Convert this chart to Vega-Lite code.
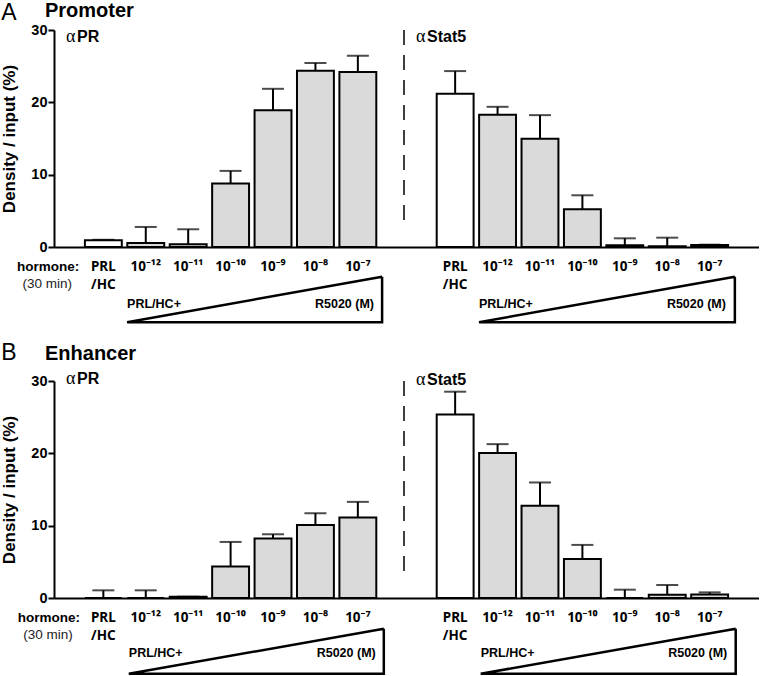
{
  "$schema": "https://vega.github.io/schema/vega-lite/v6.json",
  "padding": {"left": 0, "top": 0, "right": 0, "bottom": 0},
  "config": {
    "view": {"stroke": null},
    "font": "Liberation Sans",
    "axisY": {"grid": false, "domainColor": "black", "domainWidth": 2, "tickColor": "black", "tickWidth": 2, "tickSize": 6, "labelFontSize": 14.5, "labelFontWeight": "bold", "labelColor": "black", "labelPadding": 1, "titleFontSize": 17, "titleFontWeight": "bold", "titleColor": "black", "titlePadding": 12}
  },
  "spacing": 14,
  "datasets": {
    "bars": [
      {"panel": "A", "ab": "αPR", "cond": "PRL\n/HC", "treat": "PRL/HC", "value": 0.92, "hi": 1.0},
      {"panel": "A", "ab": "αPR", "cond": "10⁻¹²", "treat": "PRL/HC+R5020", "value": 0.55, "hi": 2.77},
      {"panel": "A", "ab": "αPR", "cond": "10⁻¹¹", "treat": "PRL/HC+R5020", "value": 0.37, "hi": 2.45},
      {"panel": "A", "ab": "αPR", "cond": "10⁻¹⁰", "treat": "PRL/HC+R5020", "value": 8.77, "hi": 10.52},
      {"panel": "A", "ab": "αPR", "cond": "10⁻⁹", "treat": "PRL/HC+R5020", "value": 18.92, "hi": 21.87},
      {"panel": "A", "ab": "αPR", "cond": "10⁻⁸", "treat": "PRL/HC+R5020", "value": 24.37, "hi": 25.43},
      {"panel": "A", "ab": "αPR", "cond": "10⁻⁷", "treat": "PRL/HC+R5020", "value": 24.18, "hi": 26.44},
      {"panel": "A", "ab": "αStat5", "cond": "PRL\n/HC", "treat": "PRL/HC", "value": 21.18, "hi": 24.32},
      {"panel": "A", "ab": "αStat5", "cond": "10⁻¹²", "treat": "PRL/HC+R5020", "value": 18.27, "hi": 19.38},
      {"panel": "A", "ab": "αStat5", "cond": "10⁻¹¹", "treat": "PRL/HC+R5020", "value": 14.95, "hi": 18.23},
      {"panel": "A", "ab": "αStat5", "cond": "10⁻¹⁰", "treat": "PRL/HC+R5020", "value": 5.21, "hi": 7.15},
      {"panel": "A", "ab": "αStat5", "cond": "10⁻⁹", "treat": "PRL/HC+R5020", "value": 0.23, "hi": 1.2},
      {"panel": "A", "ab": "αStat5", "cond": "10⁻⁸", "treat": "PRL/HC+R5020", "value": 0.1, "hi": 1.29},
      {"panel": "A", "ab": "αStat5", "cond": "10⁻⁷", "treat": "PRL/HC+R5020", "value": 0.28, "hi": 0.32},
      {"panel": "B", "ab": "αPR", "cond": "PRL\n/HC", "treat": "PRL/HC", "value": 0, "hi": 1.06},
      {"panel": "B", "ab": "αPR", "cond": "10⁻¹²", "treat": "PRL/HC+R5020", "value": 0, "hi": 1.06},
      {"panel": "B", "ab": "αPR", "cond": "10⁻¹¹", "treat": "PRL/HC+R5020", "value": 0.18, "hi": 0.18},
      {"panel": "B", "ab": "αPR", "cond": "10⁻¹⁰", "treat": "PRL/HC+R5020", "value": 4.34, "hi": 7.75},
      {"panel": "B", "ab": "αPR", "cond": "10⁻⁹", "treat": "PRL/HC+R5020", "value": 8.21, "hi": 8.81},
      {"panel": "B", "ab": "αPR", "cond": "10⁻⁸", "treat": "PRL/HC+R5020", "value": 10.1, "hi": 11.72},
      {"panel": "B", "ab": "αPR", "cond": "10⁻⁷", "treat": "PRL/HC+R5020", "value": 11.12, "hi": 13.29},
      {"panel": "B", "ab": "αStat5", "cond": "PRL\n/HC", "treat": "PRL/HC", "value": 25.38, "hi": 28.52},
      {"panel": "B", "ab": "αStat5", "cond": "10⁻¹²", "treat": "PRL/HC+R5020", "value": 20.03, "hi": 21.27},
      {"panel": "B", "ab": "αStat5", "cond": "10⁻¹¹", "treat": "PRL/HC+R5020", "value": 12.74, "hi": 15.97},
      {"panel": "B", "ab": "αStat5", "cond": "10⁻¹⁰", "treat": "PRL/HC+R5020", "value": 5.4, "hi": 7.34},
      {"panel": "B", "ab": "αStat5", "cond": "10⁻⁹", "treat": "PRL/HC+R5020", "value": 0, "hi": 1.15},
      {"panel": "B", "ab": "αStat5", "cond": "10⁻⁸", "treat": "PRL/HC+R5020", "value": 0.46, "hi": 1.8},
      {"panel": "B", "ab": "αStat5", "cond": "10⁻⁷", "treat": "PRL/HC+R5020", "value": 0.5, "hi": 0.78}
    ],
    "notes": [
      {"panel": "A", "role": "letter", "label": "A", "u": -1.24, "y": 31.4},
      {"panel": "A", "role": "title", "label": "Promoter", "u": -0.212, "y": 31.8},
      {"panel": "A", "role": "alpha", "label": "α", "u": 0.282, "y": 28.4},
      {"panel": "A", "role": "ab", "label": "PR", "u": 0.282, "y": 28.4},
      {"panel": "A", "role": "alpha", "label": "α", "u": 8.518, "y": 28.4},
      {"panel": "A", "role": "ab", "label": "Stat5", "u": 8.518, "y": 28.4},
      {"panel": "A", "role": "hormone", "label": "hormone:", "u": -0.14, "y": -3.3},
      {"panel": "A", "role": "mins", "label": "(30 min)", "u": -0.16, "y": -5.7},
      {"panel": "A", "role": "triL", "label": "PRL/HC+", "u": 1.72, "y": -8.4},
      {"panel": "A", "role": "triL", "label": "PRL/HC+", "u": 10.0, "y": -8.4},
      {"panel": "A", "role": "triR", "label": "R5020 (M)", "u": 7.53, "y": -8.4},
      {"panel": "A", "role": "triR", "label": "R5020 (M)", "u": 15.81, "y": -8.4},
      {"panel": "A", "role": "tri", "label": "A-PR", "k": 0, "u": 7.72, "y": -4.1},
      {"panel": "A", "role": "tri", "label": "A-PR", "k": 1, "u": 7.72, "y": -10.4},
      {"panel": "A", "role": "tri", "label": "A-PR", "k": 2, "u": 1.72, "y": -10.4},
      {"panel": "A", "role": "tri", "label": "A-PR", "k": 3, "u": 7.72, "y": -4.1},
      {"panel": "A", "role": "tri", "label": "A-Stat5", "k": 0, "u": 16.02, "y": -4.1},
      {"panel": "A", "role": "tri", "label": "A-Stat5", "k": 1, "u": 16.02, "y": -10.4},
      {"panel": "A", "role": "tri", "label": "A-Stat5", "k": 2, "u": 10.0, "y": -10.4},
      {"panel": "A", "role": "tri", "label": "A-Stat5", "k": 3, "u": 16.02, "y": -4.1},
      {"panel": "A", "role": "dash", "u": 8.235, "y": 30, "y2": 2.6},
      {"panel": "B", "role": "letter", "label": "B", "u": -1.24, "y": 32.9},
      {"panel": "B", "role": "title", "label": "Enhancer", "u": -0.212, "y": 32.9},
      {"panel": "B", "role": "alpha", "label": "α", "u": 0.282, "y": 29.6},
      {"panel": "B", "role": "ab", "label": "PR", "u": 0.282, "y": 29.6},
      {"panel": "B", "role": "alpha", "label": "α", "u": 8.518, "y": 29.4},
      {"panel": "B", "role": "ab", "label": "Stat5", "u": 8.518, "y": 29.4},
      {"panel": "B", "role": "hormone", "label": "hormone:", "u": -0.12, "y": -3.3},
      {"panel": "B", "role": "mins", "label": "(30 min)", "u": -0.14, "y": -5.7},
      {"panel": "B", "role": "triL", "label": "PRL/HC+", "u": 1.76, "y": -8.1},
      {"panel": "B", "role": "triL", "label": "PRL/HC+", "u": 10.04, "y": -8.1},
      {"panel": "B", "role": "triR", "label": "R5020 (M)", "u": 7.57, "y": -8.1},
      {"panel": "B", "role": "triR", "label": "R5020 (M)", "u": 15.84, "y": -8.1},
      {"panel": "B", "role": "tri", "label": "B-PR", "k": 0, "u": 7.76, "y": -4.24},
      {"panel": "B", "role": "tri", "label": "B-PR", "k": 1, "u": 7.76, "y": -10.48},
      {"panel": "B", "role": "tri", "label": "B-PR", "k": 2, "u": 1.76, "y": -10.48},
      {"panel": "B", "role": "tri", "label": "B-PR", "k": 3, "u": 7.76, "y": -4.24},
      {"panel": "B", "role": "tri", "label": "B-Stat5", "k": 0, "u": 16.04, "y": -4.24},
      {"panel": "B", "role": "tri", "label": "B-Stat5", "k": 1, "u": 16.04, "y": -10.48},
      {"panel": "B", "role": "tri", "label": "B-Stat5", "k": 2, "u": 10.04, "y": -10.48},
      {"panel": "B", "role": "tri", "label": "B-Stat5", "k": 3, "u": 16.04, "y": -4.24},
      {"panel": "B", "role": "dash", "u": 8.235, "y": 30, "y2": 2.4}
    ]
  },
  "vconcat": [
    {
      "width": 705,
      "height": 217,
      "resolve": {"scale": {"x": "independent"}},
      "layer": [
        {
          "data": {"name": "bars"},
          "transform": [{"filter": "datum.panel == 'A'"}],
          "encoding": {
            "x": {"field": "ab", "type": "nominal", "scale": {"domain": ["αPR", "αStat5"], "paddingInner": 0.156, "paddingOuter": 0.08}, "axis": {"labels": false, "ticks": false, "title": null, "domainColor": "black", "domainWidth": 2}},
            "xOffset": {"field": "cond", "type": "nominal", "scale": {"domain": ["PRL\n/HC", "10⁻¹²", "10⁻¹¹", "10⁻¹⁰", "10⁻⁹", "10⁻⁸", "10⁻⁷"], "paddingInner": 0.13, "paddingOuter": 0.065}}
          },
          "layer": [
            {"mark": {"type": "bar", "stroke": "black", "strokeWidth": 2},
             "encoding": {
               "y": {"field": "value", "type": "quantitative", "scale": {"domain": [0, 30], "nice": false}, "axis": {"title": "Density / input (%)", "values": [0, 10, 20, 30]}},
               "fill": {"field": "treat", "type": "nominal", "scale": {"domain": ["PRL/HC", "PRL/HC+R5020"], "range": ["white", "#dadada"]}, "legend": null}
             }},
            {"mark": {"type": "rule", "color": "black", "strokeWidth": 2},
             "encoding": {"y": {"field": "value", "type": "quantitative", "scale": {"domain": [0, 30], "nice": false}, "axis": {"title": "Density / input (%)", "values": [0, 10, 20, 30]}}, "y2": {"field": "hi"}}},
            {"mark": {"type": "tick", "color": "black", "thickness": 2, "size": 22},
             "encoding": {"y": {"field": "hi", "type": "quantitative", "scale": {"domain": [0, 30], "nice": false}, "axis": {"title": "Density / input (%)", "values": [0, 10, 20, 30]}}}},
            {"mark": {"type": "text", "font": "Noto Sans", "fontSize": 13.5, "fontWeight": "bold", "lineBreak": "\n", "lineHeight": 18, "baseline": "alphabetic", "align": "center", "color": "black"},
             "encoding": {"y": {"datum": -3.3, "type": "quantitative", "scale": {"domain": [0, 30], "nice": false}, "axis": {"title": "Density / input (%)", "values": [0, 10, 20, 30]}}, "text": {"field": "cond"}}}
          ]
        },
        {
          "data": {"name": "notes"},
          "transform": [{"filter": "datum.panel == 'A'"}],
          "encoding": {
            "x": {"field": "u", "type": "quantitative", "scale": {"domain": [0, 16.588], "nice": false, "zero": false}, "axis": null},
            "y": {"field": "y", "type": "quantitative", "scale": {"domain": [0, 30], "nice": false}, "axis": {"title": "Density / input (%)", "values": [0, 10, 20, 30]}}
          },
          "layer": [
            {"transform": [{"filter": "datum.role == 'letter'"}], "mark": {"type": "text", "fontSize": 23, "align": "left", "baseline": "alphabetic", "color": "black"}, "encoding": {"text": {"field": "label"}}},
            {"transform": [{"filter": "datum.role == 'title'"}], "mark": {"type": "text", "fontSize": 20, "fontWeight": "bold", "align": "left", "baseline": "alphabetic", "color": "black"}, "encoding": {"text": {"field": "label"}}},
            {"transform": [{"filter": "datum.role == 'alpha'"}], "mark": {"type": "text", "font": "Liberation Serif", "fontSize": 18, "align": "left", "baseline": "alphabetic", "color": "black"}, "encoding": {"text": {"field": "label"}}},
            {"transform": [{"filter": "datum.role == 'ab'"}], "mark": {"type": "text", "fontSize": 16, "fontWeight": "bold", "align": "left", "baseline": "alphabetic", "color": "black", "dx": 11}, "encoding": {"text": {"field": "label"}}},
            {"transform": [{"filter": "datum.role == 'hormone'"}], "mark": {"type": "text", "fontSize": 13.5, "fontWeight": "bold", "align": "center", "baseline": "alphabetic", "color": "black"}, "encoding": {"text": {"field": "label"}}},
            {"transform": [{"filter": "datum.role == 'mins'"}], "mark": {"type": "text", "fontSize": 13.5, "align": "center", "baseline": "alphabetic", "color": "#222222"}, "encoding": {"text": {"field": "label"}}},
            {"transform": [{"filter": "datum.role == 'triL'"}], "mark": {"type": "text", "fontSize": 12.5, "fontWeight": "bold", "align": "left", "baseline": "alphabetic", "color": "black"}, "encoding": {"text": {"field": "label"}}},
            {"transform": [{"filter": "datum.role == 'triR'"}], "mark": {"type": "text", "fontSize": 12.5, "fontWeight": "bold", "align": "right", "baseline": "alphabetic", "color": "black"}, "encoding": {"text": {"field": "label"}}},
            {"transform": [{"filter": "datum.role == 'tri'"}], "mark": {"type": "line", "color": "black", "strokeWidth": 2.5, "strokeJoin": "miter"}, "encoding": {"detail": {"field": "label"}, "order": {"field": "k"}}},
            {"transform": [{"filter": "datum.role == 'dash'"}], "mark": {"type": "rule", "color": "black", "strokeWidth": 1.5, "strokeDash": [15, 10]}, "encoding": {"y2": {"field": "y2"}}}
          ]
        }
      ]
    },
    {
      "width": 705,
      "height": 217,
      "resolve": {"scale": {"x": "independent"}},
      "layer": [
        {
          "data": {"name": "bars"},
          "transform": [{"filter": "datum.panel == 'B'"}],
          "encoding": {
            "x": {"field": "ab", "type": "nominal", "scale": {"domain": ["αPR", "αStat5"], "paddingInner": 0.156, "paddingOuter": 0.08}, "axis": {"labels": false, "ticks": false, "title": null, "domainColor": "black", "domainWidth": 2}},
            "xOffset": {"field": "cond", "type": "nominal", "scale": {"domain": ["PRL\n/HC", "10⁻¹²", "10⁻¹¹", "10⁻¹⁰", "10⁻⁹", "10⁻⁸", "10⁻⁷"], "paddingInner": 0.13, "paddingOuter": 0.065}}
          },
          "layer": [
            {"mark": {"type": "bar", "stroke": "black", "strokeWidth": 2},
             "encoding": {
               "y": {"field": "value", "type": "quantitative", "scale": {"domain": [0, 30], "nice": false}, "axis": {"title": "Density / input (%)", "values": [0, 10, 20, 30]}},
               "fill": {"field": "treat", "type": "nominal", "scale": {"domain": ["PRL/HC", "PRL/HC+R5020"], "range": ["white", "#dadada"]}, "legend": null}
             }},
            {"mark": {"type": "rule", "color": "black", "strokeWidth": 2},
             "encoding": {"y": {"field": "value", "type": "quantitative", "scale": {"domain": [0, 30], "nice": false}, "axis": {"title": "Density / input (%)", "values": [0, 10, 20, 30]}}, "y2": {"field": "hi"}}},
            {"mark": {"type": "tick", "color": "black", "thickness": 2, "size": 22},
             "encoding": {"y": {"field": "hi", "type": "quantitative", "scale": {"domain": [0, 30], "nice": false}, "axis": {"title": "Density / input (%)", "values": [0, 10, 20, 30]}}}},
            {"mark": {"type": "text", "font": "Noto Sans", "fontSize": 13.5, "fontWeight": "bold", "lineBreak": "\n", "lineHeight": 18, "baseline": "alphabetic", "align": "center", "color": "black"},
             "encoding": {"y": {"datum": -3.3, "type": "quantitative", "scale": {"domain": [0, 30], "nice": false}, "axis": {"title": "Density / input (%)", "values": [0, 10, 20, 30]}}, "text": {"field": "cond"}}}
          ]
        },
        {
          "data": {"name": "notes"},
          "transform": [{"filter": "datum.panel == 'B'"}],
          "encoding": {
            "x": {"field": "u", "type": "quantitative", "scale": {"domain": [0, 16.588], "nice": false, "zero": false}, "axis": null},
            "y": {"field": "y", "type": "quantitative", "scale": {"domain": [0, 30], "nice": false}, "axis": {"title": "Density / input (%)", "values": [0, 10, 20, 30]}}
          },
          "layer": [
            {"transform": [{"filter": "datum.role == 'letter'"}], "mark": {"type": "text", "fontSize": 23, "align": "left", "baseline": "alphabetic", "color": "black"}, "encoding": {"text": {"field": "label"}}},
            {"transform": [{"filter": "datum.role == 'title'"}], "mark": {"type": "text", "fontSize": 20, "fontWeight": "bold", "align": "left", "baseline": "alphabetic", "color": "black"}, "encoding": {"text": {"field": "label"}}},
            {"transform": [{"filter": "datum.role == 'alpha'"}], "mark": {"type": "text", "font": "Liberation Serif", "fontSize": 18, "align": "left", "baseline": "alphabetic", "color": "black"}, "encoding": {"text": {"field": "label"}}},
            {"transform": [{"filter": "datum.role == 'ab'"}], "mark": {"type": "text", "fontSize": 16, "fontWeight": "bold", "align": "left", "baseline": "alphabetic", "color": "black", "dx": 11}, "encoding": {"text": {"field": "label"}}},
            {"transform": [{"filter": "datum.role == 'hormone'"}], "mark": {"type": "text", "fontSize": 13.5, "fontWeight": "bold", "align": "center", "baseline": "alphabetic", "color": "black"}, "encoding": {"text": {"field": "label"}}},
            {"transform": [{"filter": "datum.role == 'mins'"}], "mark": {"type": "text", "fontSize": 13.5, "align": "center", "baseline": "alphabetic", "color": "#222222"}, "encoding": {"text": {"field": "label"}}},
            {"transform": [{"filter": "datum.role == 'triL'"}], "mark": {"type": "text", "fontSize": 12.5, "fontWeight": "bold", "align": "left", "baseline": "alphabetic", "color": "black"}, "encoding": {"text": {"field": "label"}}},
            {"transform": [{"filter": "datum.role == 'triR'"}], "mark": {"type": "text", "fontSize": 12.5, "fontWeight": "bold", "align": "right", "baseline": "alphabetic", "color": "black"}, "encoding": {"text": {"field": "label"}}},
            {"transform": [{"filter": "datum.role == 'tri'"}], "mark": {"type": "line", "color": "black", "strokeWidth": 2.5, "strokeJoin": "miter"}, "encoding": {"detail": {"field": "label"}, "order": {"field": "k"}}},
            {"transform": [{"filter": "datum.role == 'dash'"}], "mark": {"type": "rule", "color": "black", "strokeWidth": 1.5, "strokeDash": [15, 10]}, "encoding": {"y2": {"field": "y2"}}}
          ]
        }
      ]
    }
  ]
}
